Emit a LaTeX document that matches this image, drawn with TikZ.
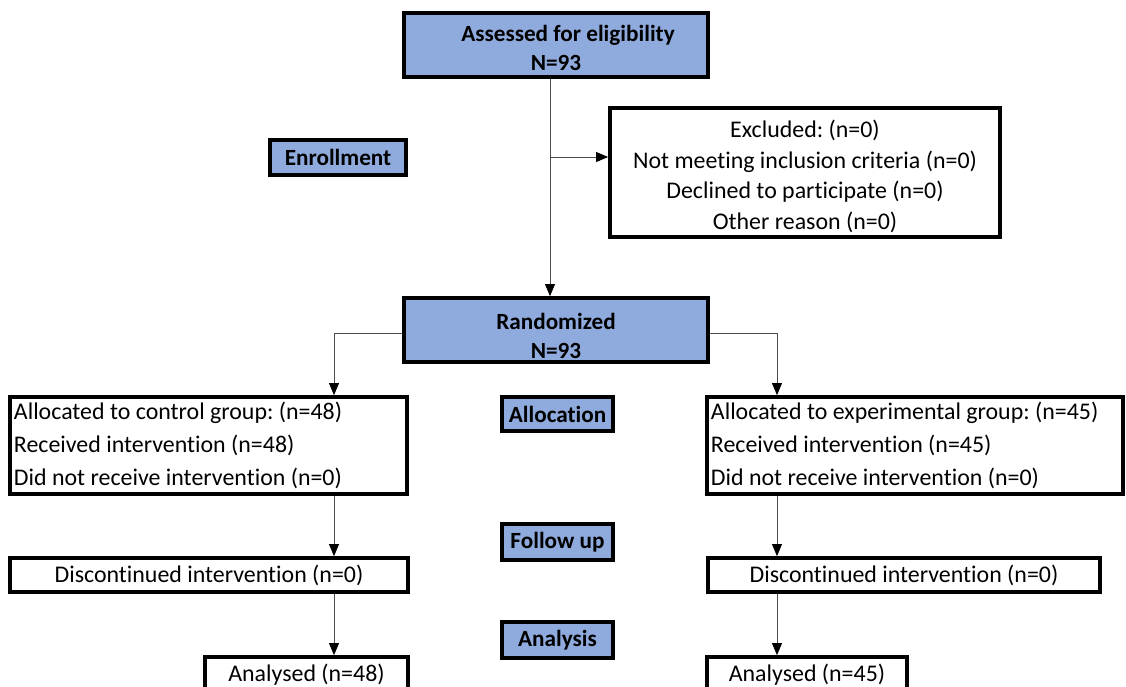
\documentclass[tikz,border=0pt]{standalone}
\usepackage{fontspec}
\setmainfont{Carlito}[Ligatures=NoCommon]
\frenchspacing
\usetikzlibrary{arrows.meta}
\definecolor{stageblue}{RGB}{143,170,220}
\tikzset{
  stage/.style={draw=black, line width=2.6pt, fill=stageblue, inner sep=0pt, align=center,
    font=\fontsize{16.5}{21}\selectfont\bfseries},
  plainbox/.style={draw=black, line width=2.6pt, fill=white, inner sep=0pt, align=center,
    font=\fontsize{17}{22}\selectfont},
  listbox/.style={plainbox, align=flush left, inner xsep=0.1cm,
    font=\fontsize{17}{23.5}\selectfont},
  arr/.style={draw=black!70, line width=0.7pt, -{Triangle[width=7pt,length=8.5pt,color=black]}},
}
\begin{document}
\begin{tikzpicture}[x=0.025cm,y=-0.025cm]
\useasboundingbox (0,0) rectangle (1126,686);

% enrollment
\node[stage, minimum width=7.6cm, minimum height=1.6cm] (assess) at (556,45) {\rule{0pt}{16pt}\hspace*{0.6cm}Assessed for eligibility\\N=93};
\node[stage, minimum width=3.4cm, minimum height=0.875cm] (enroll) at (338,157.5) {Enrollment};
\node[plainbox, minimum width=9.75cm, minimum height=3.225cm, font=\fontsize{17}{21.9}\selectfont] (excl) at (805,172.5)
  {\rule{0pt}{18pt}Excluded: (n=0)\\Not meeting inclusion criteria (n=0)\\Declined to participate (n=0)\\Other reason (n=0)};
\node[stage, minimum width=7.6cm, minimum height=1.6cm, font=\fontsize{16.5}{21}\selectfont\bfseries] (rand) at (556,330) {\rule{0pt}{20pt}Randomized\\N=93};

% allocation
\node[listbox, text width=9.725cm, minimum height=2.425cm] (ctrl) at (208.5,445.5)
  {Allocated to control group: (n=48)\\Received intervention (n=48)\\Did not receive intervention (n=0)};
\node[listbox, text width=10.2cm, minimum height=2.425cm] (exp) at (915,445.5)
  {Allocated to experimental group: (n=45)\\Received intervention (n=45)\\Did not receive intervention (n=0)};
\node[stage, minimum width=2.775cm, minimum height=0.85cm] (alloc) at (557.5,414) {Allocation};

% follow up
\node[plainbox, minimum width=9.95cm, minimum height=0.85cm] (dcL) at (209,575) {Discontinued intervention (n=0)};
\node[plainbox, minimum width=9.8cm, minimum height=0.85cm] (dcR) at (904,575) {Discontinued intervention (n=0)};
\node[stage, minimum width=2.775cm, minimum height=0.9cm] (follow) at (557.5,542) {Follow up};

% analysis
\node[plainbox, minimum width=5.075cm, minimum height=0.9cm] (anL) at (306.5,675) {Analysed (n=48)};
\node[plainbox, minimum width=5cm, minimum height=0.9cm] (anR) at (807,675) {Analysed (n=45)};
\node[stage, minimum width=2.775cm, minimum height=0.9cm] (analysis) at (557.5,640) {Analysis};

% connectors
\coordinate (fork) at (550,157);
\coordinate (colL) at (334,0);
\coordinate (colR) at (777,0);
\draw[arr] (assess.south -| fork) -- (rand.north -| fork);
\draw[arr] (fork) -- (fork -| excl.west);
\draw[arr] ([yshift=-3*0.025cm]rand.west) -| (colL |- ctrl.north);
\draw[arr] ([yshift=-3*0.025cm]rand.east) -| (colR |- exp.north);
\draw[arr] (colL |- ctrl.south) -- (colL |- dcL.north);
\draw[arr] (colL |- dcL.south) -- (colL |- anL.north);
\draw[arr] (colR |- exp.south) -- (colR |- dcR.north);
\draw[arr] (colR |- dcR.south) -- (colR |- anR.north);
\end{tikzpicture}
\end{document}
